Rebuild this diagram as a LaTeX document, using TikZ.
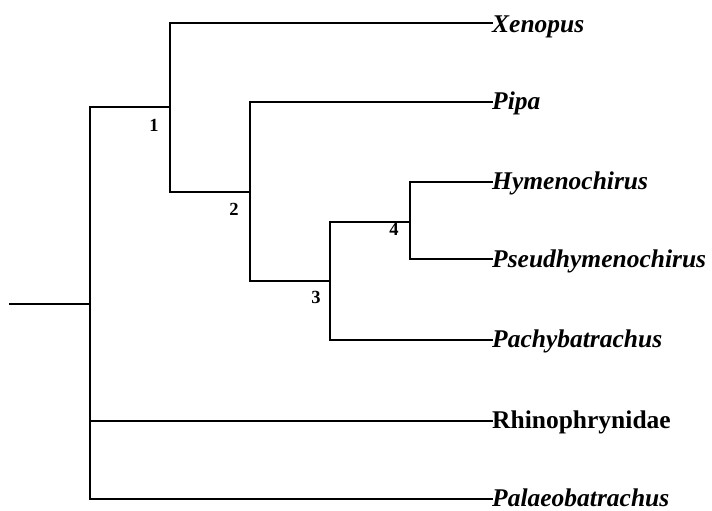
\documentclass[tikz,border=0pt]{standalone}
\usepackage{fontspec}
\setmainfont{Liberation Serif}
\begin{document}
\begin{tikzpicture}[x=1pt,y=-1pt,
  branch/.style={line width=2pt, line cap=rect},
  taxon/.style={anchor=base west, inner sep=0pt, font=\fontsize{25.5}{30}\selectfont\bfseries\itshape},
  group/.style={anchor=base west, inner sep=0pt, font=\fontsize{25.5}{30}\selectfont\bfseries},
  clade/.style={anchor=base, inner sep=0pt, font=\fontsize{18.5}{22}\selectfont\bfseries}]
\useasboundingbox (0,0) rectangle (712,511);

% internal nodes (at the point where each joins its parent)
\coordinate (root) at (10,304);
\coordinate (N0) at (90,304);
\coordinate (N1) at (170,107);
\coordinate (N2) at (250,192);
\coordinate (N3) at (330,281);
\coordinate (N4) at (410,222);

% branch tips
\coordinate (tXen)    at (492,23);
\coordinate (tPipa)   at (492,102);
\coordinate (tHym)    at (492,182);
\coordinate (tPseudo) at (492,259);
\coordinate (tPachy)  at (492,340);
\coordinate (tRhino)  at (492,421);
\coordinate (tPalaeo) at (492,499);

% branches
\draw[branch] (root) -- (N0);
\draw[branch] (N0) |- (N1);
\draw[branch] (N0) |- (tRhino);
\draw[branch] (N0) |- (tPalaeo);
\draw[branch] (N1) |- (tXen);
\draw[branch] (N1) |- (N2);
\draw[branch] (N2) |- (tPipa);
\draw[branch] (N2) |- (N3);
\draw[branch] (N3) |- (N4);
\draw[branch] (N3) |- (tPachy);
\draw[branch] (N4) |- (tHym);
\draw[branch] (N4) |- (tPseudo);

% terminal taxa (baseline sits a little below each branch tip)
\node[taxon] (xen)    at ([yshift=-9.5pt]tXen)    {Xenopus};
\node[taxon] (pipa)   at ([yshift=-8pt]tPipa)     {Pipa};
\node[taxon] (hym)    at ([yshift=-7.5pt]tHym)    {Hymenochirus};
\node[taxon] (pseudo) at ([yshift=-8pt]tPseudo)   {Pseudhymenochirus};
\node[taxon] (pachy)  at ([yshift=-7pt]tPachy)    {Pachybatrachus};
\node[group] (rhino)  at ([yshift=-7.5pt]tRhino)  {Rhinophrynidae};
\node[taxon] (palaeo) at ([yshift=-7pt]tPalaeo)   {Palaeobatrachus};

% clade numbers
\node[clade] (l1) at (154,131) {1};
\node[clade] (l2) at (234,215) {2};
\node[clade] (l3) at (316,303) {3};
\node[clade] (l4) at (394,235) {4};
\end{tikzpicture}
\end{document}
